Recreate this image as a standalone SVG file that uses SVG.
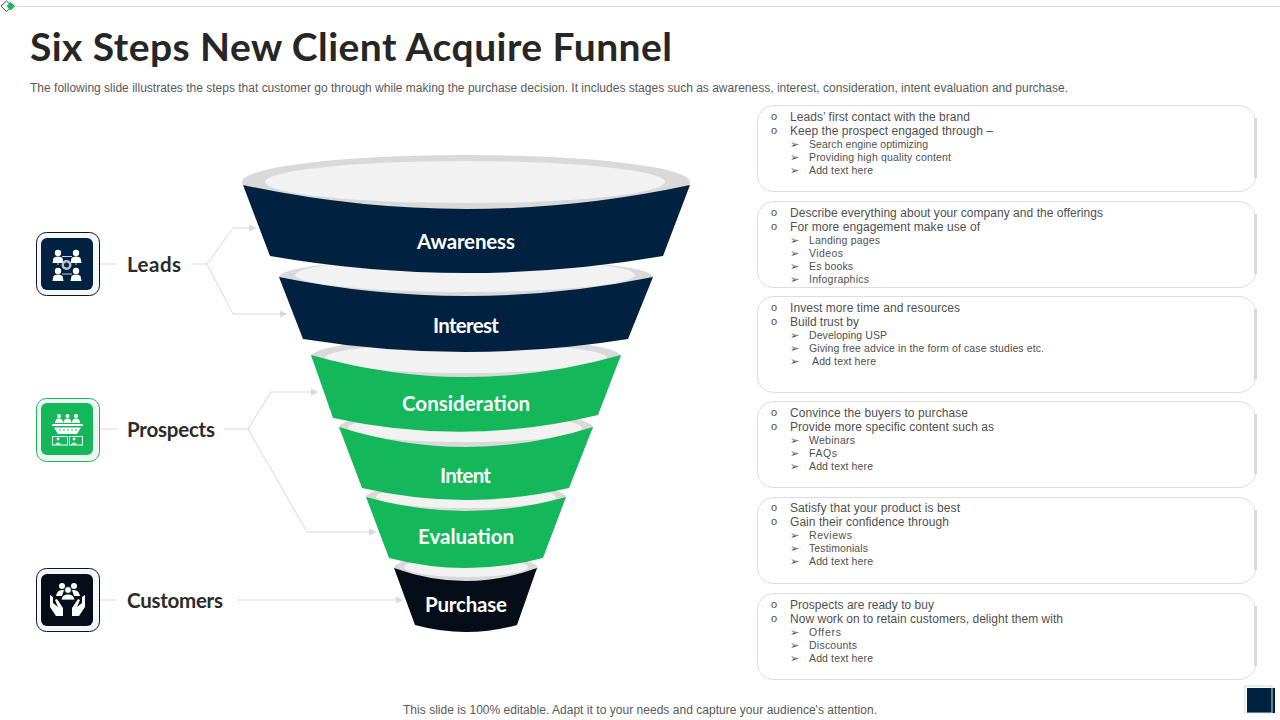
<svg xmlns="http://www.w3.org/2000/svg" width="1280" height="720" viewBox="0 0 1280 720">
<style>
text{font-family:"Liberation Sans",Arial,sans-serif}
.title{font-family:Lato,"Liberation Sans",sans-serif;font-weight:700;font-size:39px;fill:#262626}
.sub{font-size:12px;fill:#595959}
.lab{font-family:Lato,"Liberation Sans",sans-serif;font-weight:700;font-size:20.5px;fill:#2b2b2b}
.fl{font-family:Lato,"Liberation Sans",sans-serif;font-weight:700;font-size:20.5px;fill:#fff}
.l1{font-size:12px;fill:#505050}
.l2{font-size:10.5px;fill:#505050}
.b1{font-size:11px;fill:#505050}
.b2{font-family:"DejaVu Sans",sans-serif;font-size:11px;fill:#505050}
.card{fill:#fff;stroke:#dedede;stroke-width:1}
.edge{stroke:#d9d9d9;stroke-width:3;fill:none}
.con{fill:none;stroke:#d9d9d9;stroke-width:1}
.ring{fill:#d9d9d9}
.in{fill:#f2f2f2}
.navy{fill:#002140}
.green{fill:#14b85a}
.black{fill:#040d18}
</style>
<defs>
<marker id="ah" markerUnits="userSpaceOnUse" markerWidth="8" markerHeight="8" refX="7" refY="4" orient="auto"><path d="M0,0.5 L7,4 L0,7.5 Z" fill="#d9d9d9"/></marker>
<g id="person"><circle cx="0" cy="-4" r="3.2"/><path d="M-5.5,6 L-4.5,1 Q-3.5,-0.5 0,-0.5 Q3.5,-0.5 4.5,1 L5.5,6 Z"/></g>
<g id="person-s"><circle cx="0" cy="-5" r="2"/><path d="M-4,2 Q-4,-2.5 0,-2.5 Q4,-2.5 4,2 Z"/></g>
</defs>

<g id="header">
<line x1="14" y1="6.5" x2="1280" y2="6.5" stroke="#d9d9d9" stroke-width="1"/>
<path d="M6.5,1 L12,6 L6.5,11.5 L1,6 Z" fill="#fff" stroke="#222" stroke-width="0.8"/>
<path d="M10.5,2 L15,6 L10.5,10.5 L6.5,6 Z" fill="#14b85a"/>
<text class="title" x="30" y="61" textLength="642" lengthAdjust="spacing">Six Steps New Client Acquire Funnel</text>
<text class="sub" x="30" y="92" textLength="1038" lengthAdjust="spacing">The following slide illustrates the steps that customer go through while making the purchase decision. It includes stages such as awareness, interest, consideration, intent evaluation and purchase.</text>
</g>

<g id="connectors">
<path class="con" d="M100,264 H117"/>
<path class="con" d="M100,429 H117"/>
<path class="con" d="M100,600 H117"/>
<path class="con" d="M192,264 H207 L233,228 H256" marker-end="url(#ah)"/>
<path class="con" d="M207,264 L233,314 H287" marker-end="url(#ah)"/>
<path class="con" d="M224,429 H248 L271,392 H318" marker-end="url(#ah)"/>
<path class="con" d="M248,429 L307,532 H376" marker-end="url(#ah)"/>
<path class="con" d="M238,600 H403" marker-end="url(#ah)"/>
</g>

<g id="stage-purchase">
<ellipse class="ring" cx="466" cy="568" rx="72" ry="13"/><ellipse class="in" cx="466" cy="567" rx="62" ry="10"/>
<path class="black" d="M394,568 Q466,594 537,568 L517,625 Q466,639 415,625 Z"/>
<text class="fl" x="425" y="612" textLength="82" lengthAdjust="spacing">Purchase</text>
</g>
<g id="stage-evaluation">
<ellipse class="ring" cx="466" cy="497" rx="100" ry="14"/><ellipse class="in" cx="466" cy="497" rx="90" ry="11"/>
<path class="green" d="M366,497 Q466,525 566,497 L543,558 Q466,578 389,558 Z"/>
<text class="fl" x="418" y="544" textLength="96" lengthAdjust="spacing">Evaluation</text>
</g>
<g id="stage-intent">
<ellipse class="ring" cx="466" cy="428" rx="127" ry="19"/><ellipse class="in" cx="465" cy="428" rx="117" ry="14"/>
<path class="green" d="M339,427 Q466,467 593,427 L569,488 Q466,512 362,488 Z"/>
<text class="fl" x="440" y="483" textLength="51" lengthAdjust="spacing">Intent</text>
</g>
<g id="stage-consideration">
<ellipse class="ring" cx="466" cy="357" rx="155" ry="20"/><ellipse class="in" cx="466" cy="358" rx="141" ry="15"/>
<path class="green" d="M311,355 Q466,399 621,355 L598,415 Q466,447 333,418 Z"/>
<text class="fl" x="402" y="411" textLength="128" lengthAdjust="spacing">Consideration</text>
</g>
<g id="stage-interest">
<ellipse class="ring" cx="466" cy="277" rx="187" ry="19"/><ellipse class="in" cx="465" cy="275" rx="170" ry="17"/>
<path class="navy" d="M279,277 Q466,315 653,277 L628,339 Q466,365 303,339 Z"/>
<text class="fl" x="433" y="333" textLength="66" lengthAdjust="spacing">Interest</text>
</g>
<g id="stage-awareness">
<ellipse class="ring" cx="466" cy="182" rx="224" ry="27"/><ellipse class="in" cx="465" cy="182" rx="200" ry="21"/>
<path class="navy" d="M243,185 Q466,233 690,185 L663,256 Q466,290 270,256 Z"/>
<text class="fl" x="417" y="249" textLength="98" lengthAdjust="spacing">Awareness</text>
</g>

<g id="node-leads">
<rect x="36.5" y="232.5" width="63" height="63" rx="10" fill="#f3f6fb" stroke="#111" stroke-width="1"/>
<rect x="41" y="238" width="52" height="52" rx="6" fill="#002140"/>
<g fill="#fff">
<use href="#person" x="58" y="257"/><use href="#person" x="76" y="257"/>
<use href="#person" x="58" y="275"/><use href="#person" x="76" y="275"/>
<path d="M62,256.5 H72 M58,262 V265 M76,262 V265 M62,274 H72" stroke="#fff" stroke-width="0.8"/>
<circle cx="66.5" cy="265" r="5" fill="#b9c4d0"/><circle cx="66.5" cy="265" r="2.5" fill="#002140"/>
</g>
<text class="lab" x="127" y="272" textLength="54" lengthAdjust="spacing">Leads</text>
</g>
<g id="node-prospects">
<rect x="36.5" y="398.5" width="63" height="63" rx="10" fill="#ecf8f0" stroke="#14b85a" stroke-width="1"/>
<rect x="41" y="403" width="52" height="52" rx="6" fill="#14b85a"/>
<g fill="#fff">
<use href="#person-s" x="59" y="421"/><use href="#person-s" x="67.5" y="421"/><use href="#person-s" x="76" y="421"/>
<rect x="52" y="424" width="31" height="2"/>
<path d="M54,427.5 H81 L77,434 H58 Z"/>
<rect x="52.5" y="436.5" width="15" height="8.5" fill="none" stroke="#fff" stroke-width="1"/>
<rect x="69.5" y="436.5" width="13" height="8.5" fill="none" stroke="#fff" stroke-width="1"/>
<circle cx="58" cy="439" r="1.4"/><circle cx="74" cy="439" r="1.4"/>
<path d="M55,444.5 Q58,440.5 61,444.5 Z M71,444.5 Q74,440.5 77,444.5 Z"/>
</g>
<g fill="#14b85a"><circle cx="60" cy="430" r="0.8"/><circle cx="64" cy="430" r="0.8"/><circle cx="68" cy="430" r="0.8"/><circle cx="72" cy="430" r="0.8"/><circle cx="76" cy="430" r="0.8"/></g>
<text class="lab" x="127" y="437" textLength="88" lengthAdjust="spacing">Prospects</text>
</g>
<g id="node-customers">
<rect x="36.5" y="568.5" width="63" height="63" rx="10" fill="#f3f6fb" stroke="#111" stroke-width="1"/>
<rect x="41" y="574" width="52" height="52" rx="6" fill="#040d18"/>
<g fill="#fff">
<circle cx="62" cy="586" r="3"/><circle cx="74" cy="586" r="3"/>
<path d="M56,596 Q57,590 62,590 L64,590 L62,596 Z M80,596 Q79,590 74,590 L72,590 L74,596 Z"/>
<circle cx="68" cy="590" r="3.4" stroke="#040d18" stroke-width="0.8"/>
<path d="M61,600 Q62,594 68,594 Q74,594 75,600 Z" stroke="#040d18" stroke-width="0.8"/>
<path d="M50,595 L53,597 V603 L58,607 L55,600 L57,599 L63,608 V616 H56 L50,607 Z"/>
<path d="M85,595 L82,597 V603 L77,607 L80,600 L78,599 L72,608 V616 H79 L85,607 Z"/>
</g>
<text class="lab" x="127" y="608" textLength="96" lengthAdjust="spacing">Customers</text>
</g>

<g id="card-1">
<rect class="card" x="757.5" y="105.5" width="498" height="86" rx="16"/><path class="edge" d="M1255.5,118 V178"/>
<text class="b1" x="771" y="120">o</text><text class="l1" x="790" y="121" textLength="180" lengthAdjust="spacing">Leads’ first contact with the brand</text>
<text class="b1" x="771" y="134">o</text><text class="l1" x="790" y="135" textLength="203" lengthAdjust="spacing">Keep the prospect engaged through –</text>
<text class="b2" x="790" y="148">➢</text><text class="l2" x="809" y="148" textLength="119" lengthAdjust="spacing">Search engine optimizing</text>
<text class="b2" x="790" y="161">➢</text><text class="l2" x="809" y="161" textLength="142" lengthAdjust="spacing">Providing high quality content</text>
<text class="b2" x="790" y="174">➢</text><text class="l2" x="809" y="174" textLength="64" lengthAdjust="spacing">Add text here</text>
</g>
<g id="card-2">
<rect class="card" x="757.5" y="201.5" width="498" height="86" rx="16"/><path class="edge" d="M1255.5,214 V274"/>
<text class="b1" x="771" y="216">o</text><text class="l1" x="790" y="217" textLength="313" lengthAdjust="spacing">Describe everything about your company and the offerings</text>
<text class="b1" x="771" y="230">o</text><text class="l1" x="790" y="231" textLength="190" lengthAdjust="spacing">For more engagement make use of</text>
<text class="b2" x="790" y="244">➢</text><text class="l2" x="809" y="244" textLength="71" lengthAdjust="spacing">Landing pages</text>
<text class="b2" x="790" y="257">➢</text><text class="l2" x="809" y="257" textLength="34" lengthAdjust="spacing">Videos</text>
<text class="b2" x="790" y="270">➢</text><text class="l2" x="809" y="270" textLength="44" lengthAdjust="spacing">Es books</text>
<text class="b2" x="790" y="283">➢</text><text class="l2" x="809" y="283" textLength="60" lengthAdjust="spacing">Infographics</text>
</g>
<g id="card-3">
<rect class="card" x="757.5" y="296.5" width="498" height="96" rx="16"/><path class="edge" d="M1255.5,309 V379"/>
<text class="b1" x="771" y="311">o</text><text class="l1" x="790" y="312" textLength="170" lengthAdjust="spacing">Invest more time and resources</text>
<text class="b1" x="771" y="325">o</text><text class="l1" x="790" y="326" textLength="69" lengthAdjust="spacing">Build trust by</text>
<text class="b2" x="790" y="339">➢</text><text class="l2" x="809" y="339" textLength="78" lengthAdjust="spacing">Developing USP</text>
<text class="b2" x="790" y="352">➢</text><text class="l2" x="809" y="352" textLength="235" lengthAdjust="spacing">Giving free advice in the form of case studies etc.</text>
<text class="b2" x="790" y="365">➢</text><text class="l2" x="812" y="365" textLength="64" lengthAdjust="spacing">Add text here</text>
</g>
<g id="card-4">
<rect class="card" x="757.5" y="401.5" width="498" height="86" rx="16"/><path class="edge" d="M1255.5,414 V474"/>
<text class="b1" x="771" y="416">o</text><text class="l1" x="790" y="417" textLength="178" lengthAdjust="spacing">Convince the buyers to purchase</text>
<text class="b1" x="771" y="430">o</text><text class="l1" x="790" y="431" textLength="204" lengthAdjust="spacing">Provide more specific content such as</text>
<text class="b2" x="790" y="444">➢</text><text class="l2" x="809" y="444" textLength="46" lengthAdjust="spacing">Webinars</text>
<text class="b2" x="790" y="457">➢</text><text class="l2" x="809" y="457" textLength="28" lengthAdjust="spacing">FAQs</text>
<text class="b2" x="790" y="470">➢</text><text class="l2" x="809" y="470" textLength="64" lengthAdjust="spacing">Add text here</text>
</g>
<g id="card-5">
<rect class="card" x="757.5" y="497.5" width="498" height="86" rx="16"/><path class="edge" d="M1255.5,510 V570"/>
<text class="b1" x="771" y="511">o</text><text class="l1" x="790" y="512" textLength="170" lengthAdjust="spacing">Satisfy that your product is best</text>
<text class="b1" x="771" y="525">o</text><text class="l1" x="790" y="526" textLength="159" lengthAdjust="spacing">Gain their confidence through</text>
<text class="b2" x="790" y="539">➢</text><text class="l2" x="809" y="539" textLength="43" lengthAdjust="spacing">Reviews</text>
<text class="b2" x="790" y="552">➢</text><text class="l2" x="809" y="552" textLength="59" lengthAdjust="spacing">Testimonials</text>
<text class="b2" x="790" y="565">➢</text><text class="l2" x="809" y="565" textLength="64" lengthAdjust="spacing">Add text here</text>
</g>
<g id="card-6">
<rect class="card" x="757.5" y="593.5" width="498" height="86" rx="16"/><path class="edge" d="M1255.5,606 V666"/>
<text class="b1" x="771" y="608">o</text><text class="l1" x="790" y="609" textLength="144" lengthAdjust="spacing">Prospects are ready to buy</text>
<text class="b1" x="771" y="622">o</text><text class="l1" x="790" y="623" textLength="273" lengthAdjust="spacing">Now work on to retain customers, delight them with</text>
<text class="b2" x="790" y="636">➢</text><text class="l2" x="809" y="636" textLength="32" lengthAdjust="spacing">Offers</text>
<text class="b2" x="790" y="649">➢</text><text class="l2" x="809" y="649" textLength="48" lengthAdjust="spacing">Discounts</text>
<text class="b2" x="790" y="662">➢</text><text class="l2" x="809" y="662" textLength="64" lengthAdjust="spacing">Add text here</text>
</g>

<g id="footer">
<text class="sub" x="403" y="714" textLength="474" lengthAdjust="spacing">This slide is 100% editable. Adapt it to your needs and capture your audience's attention.</text>
<rect x="1247" y="688" width="28" height="25" fill="#002140"/>
<rect x="1245" y="686" width="27" height="27" fill="none" stroke="#cfd8e6" stroke-width="1"/>
</g>
</svg>
